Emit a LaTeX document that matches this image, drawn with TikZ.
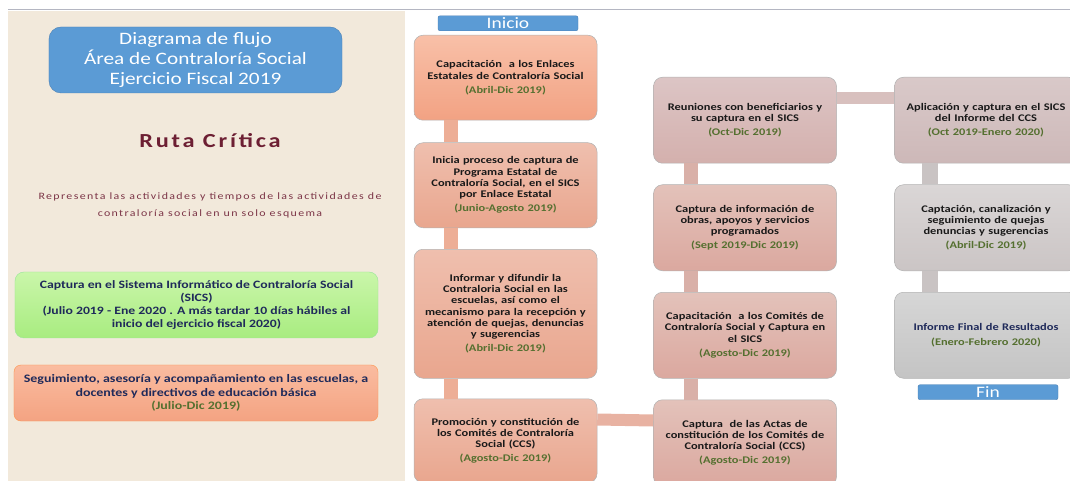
\documentclass[tikz,border=0pt]{standalone}
\usepackage{fontspec}
\setmainfont{Carlito}[FakeStretch=1.22]
\newfontfamily\spacedfont{Carlito}[FakeStretch=1.22,LetterSpace=14]
\usetikzlibrary{positioning}

\definecolor{panelbg}{HTML}{F2E9DB}
\definecolor{titleblue}{HTML}{5B9BD5}
\definecolor{titleedge}{HTML}{4A7FB3}
\definecolor{maroon}{HTML}{6D1F33}
\definecolor{navy}{HTML}{1F2A5A}
\definecolor{dategreen}{HTML}{557030}
\definecolor{topline}{HTML}{B4B6C2}
% box shades, top / bottom
\definecolor{greentop}{HTML}{CAF6AA}  \definecolor{greenbot}{HTML}{A8EC80}
\definecolor{salmtop}{HTML}{FABCA0}   \definecolor{salmbot}{HTML}{F4A382}
\definecolor{firsttop}{HTML}{F8C0A8}  \definecolor{firstbot}{HTML}{F2A283}
\definecolor{peachtop}{HTML}{EFBFAE}  \definecolor{peachbot}{HTML}{E9A68E}
\definecolor{dusktop}{HTML}{DCC5C5}   \definecolor{duskbot}{HTML}{D4B0AD}
\definecolor{rosetop}{HTML}{E3C2BA}   \definecolor{rosebot}{HTML}{DBA89F}
\definecolor{mauvetop}{HTML}{D9C9C9}  \definecolor{mauvebot}{HTML}{CDB8B8}
\definecolor{ashtop}{HTML}{DAD6D6}    \definecolor{ashbot}{HTML}{CBC5C5}
\definecolor{greytop}{HTML}{D6D6D6}   \definecolor{greybot}{HTML}{C4C4C4}
% links
\definecolor{peachbar}{HTML}{EDAE96}
\definecolor{peachlink}{HTML}{E8B2A2}
\definecolor{rosebar}{HTML}{D9B0A8}
\definecolor{mauvelink}{HTML}{D8C0BE}
\definecolor{greybar}{HTML}{C9C3C3}

\newcommand\period[1]{\textcolor{dategreen}{(#1)}}

\begin{document}
\begin{tikzpicture}[x=1bp,y=-1bp]
    \tikzset{stage/.style={
        rounded corners=9bp, draw=black!30, line width=0.5bp, anchor=north,
        text width=170bp, inner xsep=6.5bp, inner ysep=0pt, align=center,
        font=\bfseries\fontsize{10.2}{11.3}\selectfont, text=black!90
      },
      shadedstage/.style={stage, top color=#1top, bottom color=#1bot},
      bar/.style={line width=#1},
      endlabel/.style={fill=titleblue, draw=titleedge, rounded corners=2bp,
        minimum width=140bp, minimum height=15bp, inner sep=0pt, text=white,
        font=\fontsize{16}{16}\selectfont}
    }

    \path[use as bounding box] (0,0) rectangle (1070,481);
    \clip (0,0) rectangle (1070,481);

    % left panel
    \fill[panelbg] (8,11) rectangle (405,481);
    \draw[topline, line width=1bp] (8,10) -- (1070,10);

    \node[fill=titleblue, draw=titleedge, rounded corners=12bp, minimum width=293bp,
      minimum height=66bp, align=center, text=white, font=\fontsize{17.5}{20}\selectfont]
      (title) at (195.5,60) {Diagrama de flujo\\Área de Contraloría Social\\Ejercicio Fiscal 2019};

    \node[text=maroon, font=\spacedfont\bfseries\fontsize{20}{20}\selectfont] (ruta) at (210,141) {Ruta Crítica};

    \node[text=maroon!90, align=center, font=\spacedfont\fontsize{9.8}{17}\selectfont]
      (resume) at (210,205) {Representa las actividades y tiempos de las actividades de\\contraloría social en un solo esquema};

    \node[rounded corners=9bp, draw=black!25!green!40, top color=greentop, bottom color=greenbot,
      minimum width=363bp, minimum height=66bp, align=center, text=navy,
      font=\bfseries\fontsize{11.3}{13.3}\selectfont] (sics) at (196.5,305)
      {Captura en el Sistema Informático de Contraloría Social\\(SICS)\\(Julio 2019 - Ene 2020 . A más tardar 10 días hábiles al\\inicio del ejercicio fiscal 2020)};

    \node[rounded corners=7bp, draw=orange!80!red!70, top color=salmtop, bottom color=salmbot,
      minimum width=364bp, minimum height=56bp, align=center, text=navy,
      font=\bfseries\fontsize{11.5}{13.7}\selectfont] (follow) at (196,393)
      {Seguimiento, asesoría y acompañamiento en las escuelas, a\\docentes y directivos de educación básica\\\period{Julio-Dic 2019}};

    % column 1
    \node[shadedstage=first, minimum height=85bp] (c1) at (505.5,35)
      {Capacitación \ a los Enlaces\\Estatales de Contraloría Social\\[3bp]\period{Abril-Dic 2019}};
    \node[shadedstage=peach, minimum height=85bp, below=22bp of c1] (c2)
      {Inicia proceso de captura de\\Programa Estatal de\\Contraloría Social, en el SICS\\por Enlace Estatal\\[3bp]\period{Junio-Agosto 2019}};
    \node[shadedstage=peach, minimum height=129bp, below=21bp of c2] (c3)
      {Informar y difundir la\\Contraloria Social en las\\escuelas, así como el\\mecanismo para la recepción y\\atención de quejas, denuncias\\y sugerencias\\[3bp]\period{Abril-Dic 2019}};
    \node[shadedstage=peach, minimum height=84bp, below=20bp of c3] (c4)
      {Promoción y constitución de\\los Comités de Contraloría\\Social (CCS)\\[3bp]\period{Agosto-Dic 2019}};

    % column 2
    \node[shadedstage=dusk, minimum height=86bp] (d1) at (745,77)
      {Reuniones con beneficiarios y\\su captura en el SICS\\[3bp]\period{Oct-Dic 2019}};
    \node[shadedstage=rose, minimum height=86bp, below=21bp of d1] (d2)
      {Captura de información de\\obras, apoyos y servicios\\programados\\[3bp]\period{Sept 2019-Dic 2019}};
    \node[shadedstage=rose, minimum height=86bp, below=21bp of d2] (d3)
      {Capacitación \ a los Comités de\\Contraloría Social y Captura en\\el SICS\\[3bp]\period{Agosto-Dic 2019}};
    \node[shadedstage=rose, minimum height=86bp, below=21bp of d3] (d4)
      {Captura \ de las Actas de\\constitución de los Comités de\\Contraloría Social (CCS)\\[3bp]\period{Agosto-Dic 2019}};

    % column 3
    \node[shadedstage=mauve, minimum height=86bp] (e1) at (986,77)
      {Aplicación y captura en el SICS\\del Informe del CCS\\[3bp]\period{Oct 2019-Enero 2020}};
    \node[shadedstage=ash, minimum height=86bp, below=21bp of e1] (e2)
      {Captación, canalización y\\seguimiento de quejas\\denuncias y sugerencias\\[3bp]\period{Abril-Dic 2019}};
    \node[shadedstage=grey, minimum height=86bp, below=21bp of e2] (e3)
      {\textcolor{navy}{Informe Final de Resultados}\\[3bp]\period{Enero-Febrero 2020}\\[16bp]};

    \node[endlabel, above=4bp of c1, xshift=2.5bp] (inicio) {Inicio};
    \node[endlabel, below=6bp of e3, xshift=2bp] (fin) {Fin};

    % links
    \foreach \a/\b in {c1/c2, c2/c3, c3/c4}
      \draw[bar=14bp, peachbar] ([xshift=37bp]\a.south west) -- ([xshift=37bp]\b.north west);
    \foreach \a/\b in {d1/d2, d2/d3, d3/d4}
      \draw[bar=14bp, rosebar] ([xshift=38bp]\a.south west) -- ([xshift=38bp]\b.north west);
    \foreach \a/\b in {e1/e2, e2/e3}
      \draw[bar=16bp, greybar] ([xshift=36bp]\a.south west) -- ([xshift=36bp]\b.north west);

    \draw[bar=12bp, peachlink] ([yshift=-21bp]c4.north east) -- ([yshift=-21bp]d4.north west);
    \draw[bar=12bp, mauvelink] ([yshift=-21bp]d1.north east) -- ([yshift=-21bp]e1.north west);
\end{tikzpicture}
\end{document}
